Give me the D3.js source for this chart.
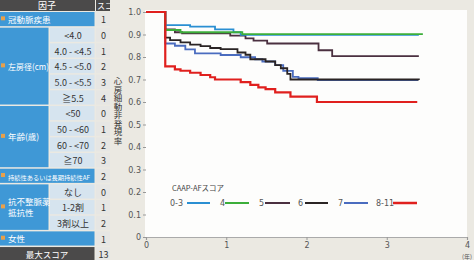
<!DOCTYPE html>
<html>
<head>
<meta charset="utf-8">
<script src="https://cdn.jsdelivr.net/npm/d3@7"></script>
<style>
  body { margin: 0; background: #ebe9e2; }
  svg { display: block; font-family: "Noto Sans CJK JP", "Noto Sans", sans-serif; }
</style>
</head>
<body>
<div id="chart"></div>
<script>
// table contents
const factors = ['冠動脈疾患', '左房径(cm)', '年齢(歳)', '持続性あるいは長期持続性AF', '抗不整脈薬|抵抗性', '女性'];
const factorSpans = [1, 5, 4, 1, 3, 1];
const subLabels = [null, '<4.0', '4.0 - <4.5', '4.5 - <5.0', '5.0 - <5.5', '≧5.5',
  '<50', '50 - <60', '60 - <70', '≧70', null, 'なし', '1-2剤', '3剤以上', null];
const scores = [1, 0, 1, 2, 3, 4, 0, 1, 2, 3, 2, 0, 1, 2, 1];
const maxScore = 13;

// curve data: [years, event-free rate]
const curve03 = [[0, 1], [0.24, 0.942], [0.55, 0.935], [0.86, 0.923], [1.09, 0.91], [1.18, 0.898], [3.4, 0.898]];
const curve4 = [[0, 1], [0.24, 0.92], [0.43, 0.91], [1.2, 0.902], [3.45, 0.902]];
const curve5 = [[0, 1], [0.24, 0.923], [0.36, 0.91], [0.45, 0.905], [1.05, 0.895], [1.24, 0.883], [1.34, 0.873],
  [1.51, 0.86], [2.15, 0.83], [2.32, 0.804], [3.4, 0.804]];
const curve6 = [[0, 1], [0.24, 0.886], [0.3, 0.875], [0.43, 0.865], [0.55, 0.855], [0.68, 0.848], [0.8, 0.84],
  [0.93, 0.835], [1.14, 0.82], [1.24, 0.81], [1.3, 0.79], [1.49, 0.78], [1.61, 0.764], [1.68, 0.75],
  [1.76, 0.725], [1.8, 0.70], [3.4, 0.698]];
const curve7 = [[0, 1], [0.24, 0.86], [0.36, 0.85], [0.49, 0.834], [0.61, 0.816], [0.93, 0.809], [1.18, 0.799],
  [1.36, 0.79], [1.45, 0.78], [1.61, 0.764], [1.71, 0.738], [1.83, 0.712], [1.9, 0.706], [2.14, 0.697], [3.39, 0.697]];
const curve811 = [[0, 1], [0.24, 0.758], [0.36, 0.745], [0.43, 0.739], [0.55, 0.73], [0.68, 0.72], [0.8, 0.71],
  [0.86, 0.70], [1.18, 0.688], [1.3, 0.676], [1.4, 0.665], [1.49, 0.657], [1.61, 0.643], [1.8, 0.624],
  [2.13, 0.60], [3.38, 0.60]];

const groupNames = ['0-3', '4', '5', '6', '7', '8-11'];
const groupColors = ['#2a8fd2', '#3cae3a', '#4b3040', '#2a2424', '#4a6cbf', '#e0201e'];
const groupCurves = [curve03, curve4, curve5, curve6, curve7, curve811];
const drawOrder = [4, 3, 2, 0, 1, 5];

const yTicks = [0, 0.1, 0.2, 0.3, 0.4, 0.5, 0.6, 0.7, 0.8, 0.9, 1.0];
const xTicks = [0, 1, 2, 3, 4];

const W = 474, H = 260;
const svg = d3.select('#chart').append('svg').attr('width', W).attr('height', H);

// ---- left table ----
const rowH = 15.67, top0 = 12;
const colA = 0, colB = 50, colC = 96, colEnd = 110;

svg.append('clipPath').attr('id', 'tclip')
  .append('rect').attr('x', 0).attr('y', 0).attr('width', colEnd).attr('height', H);
const table = svg.append('g').attr('clip-path', 'url(#tclip)');

table.append('rect').attr('x', 0).attr('y', 0).attr('width', colC - 1).attr('height', top0 - 1).attr('fill', '#4b4a4a');
table.append('rect').attr('x', colC).attr('y', 0).attr('width', colEnd - colC).attr('height', top0 - 1).attr('fill', '#4b4a4a');
table.append('text').attr('x', 47).attr('y', 9).attr('text-anchor', 'middle').attr('fill', '#fff')
  .style('font-size', '9px').text('因子');
table.append('text').attr('x', colC + 1).attr('y', 9).attr('fill', '#fff')
  .style('font-size', '8px').text('スコア');

let r = 0;
factors.forEach((f, i) => {
  const span = factorSpans[i];
  const y0 = top0 + r * rowH;
  const full = span === 1;
  table.append('rect').attr('x', colA).attr('y', y0).attr('width', (full ? colC : colB) - 1.5)
    .attr('height', span * rowH - 1.5).attr('fill', '#3f98d6');
  // orange bullet
  table.append('rect').attr('x', 1).attr('y', y0 + span * rowH / 2 - 3.5).attr('width', 4).attr('height', 4)
    .attr('fill', '#e8a04a');
  const lines = f.split('|');
  lines.forEach((ln, k) => {
    const t = table.append('text').attr('x', 8)
      .attr('y', y0 + span * rowH / 2 + 3 + (k - (lines.length - 1) / 2) * 11)
      .attr('fill', '#fff').style('font-size', '8.5px').text(ln);
    if (ln.length > 10) t.style('font-size', '6px').attr('textLength', 82).attr('lengthAdjust', 'spacingAndGlyphs');
    if (ln === '左房径(cm)') t.attr('textLength', 41).attr('lengthAdjust', 'spacingAndGlyphs');
  });
  for (let j = 0; j < span; j++) {
    const idx = r + j;
    const yy = top0 + idx * rowH;
    if (subLabels[idx]) {
      table.append('rect').attr('x', colB).attr('y', yy).attr('width', colC - colB - 1.5).attr('height', rowH - 1.5)
        .attr('fill', '#d6e4ef');
      table.append('text').attr('x', (colB + colC) / 2).attr('y', yy + rowH / 2 + 3.5).attr('text-anchor', 'middle')
        .attr('fill', '#333').style('font-size', '9px').text(subLabels[idx]);
    }
    table.append('rect').attr('x', colC).attr('y', yy).attr('width', colEnd - colC).attr('height', rowH - 1.5)
      .attr('fill', '#e6e6e4');
    table.append('text').attr('x', colC + 7.5).attr('y', yy + rowH / 2 + 3.5).attr('text-anchor', 'middle')
      .attr('fill', '#333').style('font-size', '9px').text(scores[idx]);
  }
  r += span;
});
// max score row
const yMax = top0 + r * rowH;
table.append('rect').attr('x', 0).attr('y', yMax).attr('width', colC - 1.5).attr('height', rowH).attr('fill', '#4b4a4a');
table.append('text').attr('x', 47).attr('y', yMax + rowH / 2 + 3.5).attr('text-anchor', 'middle').attr('fill', '#fff')
  .style('font-size', '8.5px').text('最大スコア');
table.append('rect').attr('x', colC).attr('y', yMax).attr('width', colEnd - colC).attr('height', rowH).attr('fill', '#e6e6e4');
table.append('text').attr('x', colC + 7.5).attr('y', yMax + rowH / 2 + 3.5).attr('text-anchor', 'middle')
  .attr('fill', '#333').style('font-size', '9px').text(maxScore);

// ---- chart ----
const x = d3.scaleLinear().domain([0, 4]).range([146, 467]);
const y = d3.scaleLinear().domain([0, 1]).range([237, 12]);

svg.append('rect').attr('x', 145).attr('y', 10).attr('width', 467 - 145).attr('height', 237 - 10).attr('fill', '#fdfdfc');

const yAxis = svg.append('g').attr('transform', 'translate(146,0)')
  .call(d3.axisLeft(y).tickValues(yTicks).tickSize(3).tickPadding(2)
    .tickFormat(d => d === 0 ? '0' : d3.format('.1f')(d)));
yAxis.select('.domain').remove();
yAxis.selectAll('line').attr('stroke', '#999');
yAxis.selectAll('text').attr('fill', '#555').style('font-size', '8px').style('font-family', 'DejaVu Sans');

const xAxis = svg.append('g').attr('transform', 'translate(0,237)')
  .call(d3.axisBottom(x).tickValues(xTicks).tickSize(3).tickPadding(2).tickFormat(d3.format('d')));
xAxis.select('.domain').attr('stroke', '#aaa').attr('stroke-width', 1.2);
xAxis.selectAll('line').attr('stroke', '#999');
xAxis.selectAll('text').attr('fill', '#555').style('font-size', '8px').style('font-family', 'DejaVu Sans');

svg.append('text').attr('x', 462).attr('y', 259).attr('fill', '#555').style('font-size', '6px').text('(年)');

svg.append('text').attr('x', 118).attr('y', 77)
  .style('writing-mode', 'vertical-rl').style('font-size', '8.5px').attr('fill', '#333')
  .text('心房細動非発現率');

const line = d3.line().x(d => x(d[0])).y(d => y(d[1])).curve(d3.curveStepAfter);
drawOrder.forEach(i => {
  svg.append('path').datum(groupCurves[i]).attr('fill', 'none')
    .attr('stroke', groupColors[i]).attr('stroke-width', i === 5 ? 2.2 : 1.8).attr('d', line);
});

// ---- legend ----
svg.append('text').attr('x', 172).attr('y', 191).attr('fill', '#444').style('font-size', '7.5px').text('CAAP-AFスコア');
const legX = [170, 220, 259, 298, 338, 376];
const legLine = [[187, 210], [225, 249], [265, 290], [305, 328], [344, 368], [393, 417]];
groupNames.forEach((g, i) => {
  svg.append('text').attr('x', legX[i]).attr('y', 206).attr('fill', '#555').style('font-size', '8px')
    .style('font-family', 'DejaVu Sans').text(g);
  svg.append('path').attr('d', d3.line()([[legLine[i][0], 203], [legLine[i][1], 203]]))
    .attr('stroke', groupColors[i]).attr('stroke-width', i === 5 ? 2.5 : 2);
});
</script>
</body>
</html>
